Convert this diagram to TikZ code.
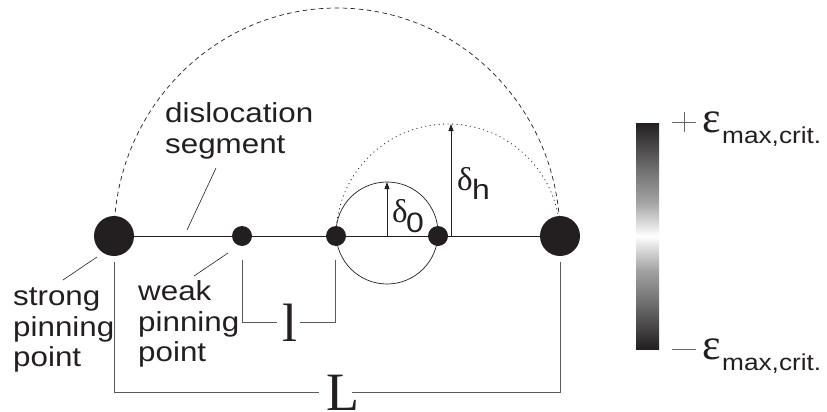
\documentclass[tikz,border=0pt]{standalone}
\usepackage{fontspec}
\setmainfont{Liberation Sans}[FakeStretch=1.14]
\newfontfamily\serifgr{Liberation Serif}
\usetikzlibrary{arrows.meta}
\definecolor{ink}{HTML}{231F20}
\definecolor{dimc}{HTML}{5A5A5A}
\pgfdeclareverticalshading{cbar}{100bp}{color(0bp)=(ink); color(25bp)=(ink); color(35bp)=(black!57); color(42.5bp)=(black!36); color(48bp)=(black!10); color(50bp)=(white); color(52bp)=(black!10); color(57.5bp)=(black!36); color(65bp)=(black!57); color(75bp)=(ink); color(100bp)=(ink)}
\tikzset{
  strongdot/.style={circle, fill=ink, minimum size=40pt, inner sep=0pt},
  weakdot/.style={circle, fill=ink, minimum size=20pt, inner sep=0pt},
  lbl/.style={anchor=base west, inner sep=0pt, text=ink, font=\fontsize{27.5}{31}\selectfont},
  leader/.style={draw=ink, line width=0.6pt},
  dimline/.style={draw=dimc, line width=0.7pt},
  bigserif/.style={inner sep=0pt, anchor=base, text=ink, font=\serifgr\fontsize{54}{54}\selectfont},
  greek/.style={anchor=base west, inner sep=0pt, text=ink, font=\serifgr\fontsize{33}{33}\selectfont},
  greeksub/.style={anchor=base west, inner sep=0pt, text=ink, font=\fontsize{28}{28}\selectfont},
  epsl/.style={anchor=base west, inner sep=0pt, text=ink, font=\serifgr\fontsize{44}{44}\selectfont},
  epssub/.style={anchor=base west, inner sep=0pt, text=ink, font=\fontsize{23}{23}\selectfont},
  signline/.style={draw=black!60, line width=0.6pt},
  arr/.style={draw=ink, line width=0.8pt, -{Triangle[length=7pt,width=5pt]}}
}
\begin{document}
\begin{tikzpicture}[x=1pt,y=-1pt]
\useasboundingbox (0,0) rectangle (827,412);

% pinning points
\node[strongdot] (S1) at (114,236) {};
\node[weakdot] (W1) at (242,236) {};
\node[weakdot] (W2) at (336,236) {};
\node[weakdot] (W3) at (438,236) {};
\node[strongdot] (S2) at (560,236) {};

% dislocation line
\draw[ink, line width=0.8pt] (S1.center) -- (S2.center);

% bowed-out shapes
\draw[ink, line width=0.7pt, dash pattern=on 4.5pt off 3.5pt] (S1.center) arc[start angle=180, end angle=360, x radius=223, y radius=228];
\draw[ink, line width=0.8pt, dash pattern=on 1pt off 3.5pt] (W2.center) arc[start angle=180, end angle=360, radius=112];
\draw[ink, line width=0.7pt] (387,233) ellipse[x radius=51, y radius=51];

% amplitude arrows
\coordinate (a0b) at (387,236);
\coordinate (a0t) at (387,182);
\coordinate (ahb) at (451,236);
\coordinate (aht) at (451,124);
\draw[arr] (a0b) -- (a0t);
\draw[arr] (ahb) -- (aht);
\node[greek] (d0) at (392,222) {δ};
\node[greeksub] (d0s) at (406,232) {0};
\node[greek] (dh) at (457,190) {δ};
\node[greeksub] (dhs) at (472,199) {h};

% labels
\node[lbl] (dis1) at (165,122) {dislocation};
\node[lbl] (dis2) at (165,153) {segment};
\node[lbl] (st1) at (13,305) {strong};
\node[lbl] (st2) at (13,336) {pinning};
\node[lbl] (st3) at (13,366) {point};
\node[lbl] (wk1) at (138,300) {weak};
\node[lbl] (wk2) at (138,331) {pinning};
\node[lbl] (wk3) at (138,361) {point};

% leader lines
\coordinate (ldA) at (216,168); \coordinate (ldB) at (187,230);
\coordinate (lsA) at (97,257);  \coordinate (lsB) at (63,280);
\coordinate (lwA) at (228,253); \coordinate (lwB) at (194,276);
\draw[leader] (ldA) -- (ldB);
\draw[leader] (lsA) -- (lsB);
\draw[leader] (lwA) -- (lwB);

% dimension l
\node[bigserif] (lsm) at (289.5,341) {l};
\coordinate (lA) at (242,260);
\coordinate (lB) at (335,260);
\draw[dimline] (lA) |- ([xshift=-5pt]lsm.west);
\draw[dimline] (lB) |- ([xshift=3pt]lsm.east);

% dimension L
\node[bigserif] (LL) at (342.5,410) {L};
\coordinate (LA) at (114,262);
\coordinate (LB) at (560,262);
\draw[dimline] (LA) |- ([xshift=-7pt]LL.west);
\draw[dimline] (LB) |- ([xshift=-7pt]LL.east);

% colour bar
\node[rectangle, minimum width=23pt, minimum height=226pt, inner sep=0pt, shading=cbar] (cb) at (647.5,236) {};
\coordinate (pL) at (672,122); \coordinate (pR) at (696,122);
\coordinate (pT) at (684,112); \coordinate (pB) at (684,132);
\draw[signline] (pL) -- (pR);
\draw[signline] (pT) -- (pB);
\coordinate (mL) at (672,349); \coordinate (mR) at (696,349);
\draw[signline] (mL) -- (mR);
\node[epsl] (e1) at (702,132) {ε};
\node[epssub] (e1s) at (722,143) {max,crit.};
\node[epsl] (e2) at (702,359) {ε};
\node[epssub] (e2s) at (722,370) {max,crit.};
\end{tikzpicture}
\end{document}
